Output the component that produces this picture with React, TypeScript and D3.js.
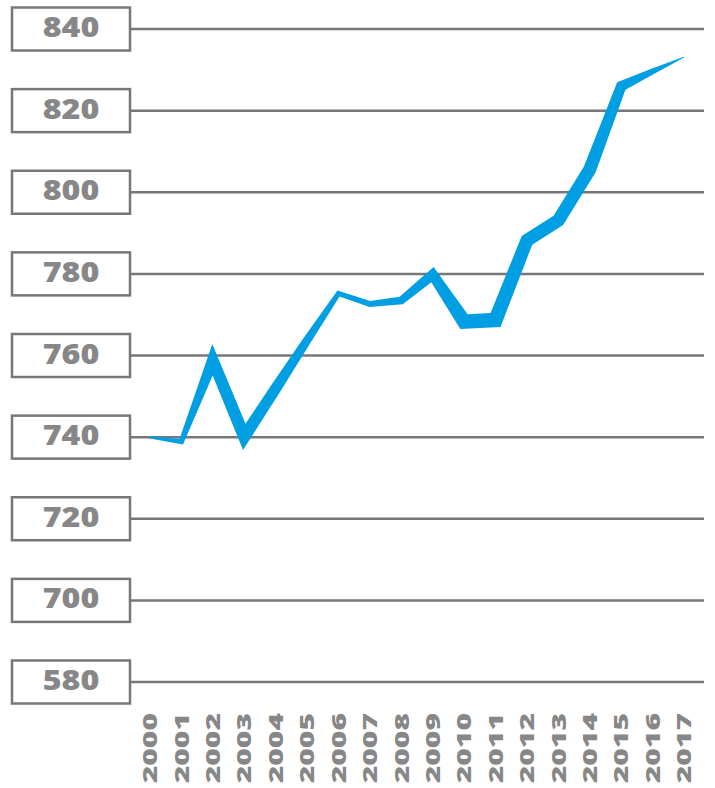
import React from 'react';
import * as d3 from 'd3';

const years = ['2000', '2001', '2002', '2003', '2004', '2005', '2006', '2007', '2008', '2009', '2010', '2011', '2012', '2013', '2014', '2015', '2016', '2017'];
const values = [739.9, 738.9, 758.8, 740.1, 751.9, 763.7, 775.2, 772.6, 773.5, 779.8, 768.3, 768.7, 788.2, 793.1, 805.6, 826.0, 829.6, 833.1];
const spread = [1.5, 4, 9, 9.5, 8.5, 6.5, 4, 4.5, 6, 8, 11, 11, 10, 10, 10, 8, 4.5, 0.5];
const tickLabels = ['840', '820', '800', '780', '760', '740', '720', '700', '580'];

const W = 715;
const H = 788;

type P = [number, number];

function intersect(a1: P, b1: P, a2: P, b2: P): P | null {
  const d1x = b1[0] - a1[0], d1y = b1[1] - a1[1];
  const d2x = b2[0] - a2[0], d2y = b2[1] - a2[1];
  const den = d1x * d2y - d1y * d2x;
  if (Math.abs(den) < 1e-9) return null;
  const t = ((a2[0] - a1[0]) * d2y - (a2[1] - a1[1]) * d2x) / den;
  return [a1[0] + t * d1x, a1[1] + t * d1y];
}

function bandPolygon(pts: P[], hw: number[]): P[] {
  const n = pts.length;
  const normals: P[] = [];
  for (let k = 0; k < n - 1; k++) {
    const dx = pts[k + 1][0] - pts[k][0];
    const dy = pts[k + 1][1] - pts[k][1];
    const len = Math.hypot(dx, dy) || 1;
    normals.push([-dy / len, dx / len]);
  }
  const sides: P[][] = [[], []];
  [1, -1].forEach((s, si) => {
    for (let i = 0; i < n; i++) {
      if (i === 0 || i === n - 1) {
        const nn = normals[i === 0 ? 0 : n - 2];
        sides[si].push([pts[i][0] + s * nn[0] * hw[i], pts[i][1] + s * nn[1] * hw[i]]);
      } else {
        const n1 = normals[i - 1];
        const n2 = normals[i];
        const a1: P = [pts[i - 1][0] + s * n1[0] * hw[i - 1], pts[i - 1][1] + s * n1[1] * hw[i - 1]];
        const b1: P = [pts[i][0] + s * n1[0] * hw[i], pts[i][1] + s * n1[1] * hw[i]];
        const a2: P = [pts[i][0] + s * n2[0] * hw[i], pts[i][1] + s * n2[1] * hw[i]];
        const b2: P = [pts[i + 1][0] + s * n2[0] * hw[i + 1], pts[i + 1][1] + s * n2[1] * hw[i + 1]];
        const q = intersect(a1, b1, a2, b2);
        if (q && Math.hypot(q[0] - pts[i][0], q[1] - pts[i][1]) < 8 * hw[i]) {
          sides[si].push(q);
        } else {
          sides[si].push([(b1[0] + a2[0]) / 2, (b1[1] + a2[1]) / 2]);
        }
      }
    }
  });
  return [...sides[0], ...sides[1].reverse()];
}

export default function App() {
  const yTick = d3.scalePoint<string>().domain(tickLabels).range([29, 682]);
  const y = d3.scaleLinear().domain([740, 840]).range([yTick('740') as number, yTick('840') as number]);
  const x = d3.scalePoint<string>().domain(years).range([150, 684]);
  const wScale = d3.scaleLinear().domain([0, 10]).range([0, 13]);

  const pts: P[] = years.map((yr, i) => [x(yr) as number, y(values[i])]);
  const hw = spread.map((s) => wScale(s) / 2);
  const poly = bandPolygon(pts, hw);
  const d = (d3.line()(poly) || '') + 'Z';

  const gray = '#777777';
  const textGray = '#878787';

  return (
    <svg width={W} height={H} style={{ position: 'absolute', left: 0, top: 0, display: 'block' }}>
      <rect x={0} y={0} width={W} height={H} fill="#ffffff" />
      {tickLabels.map((t) => {
        const yy = yTick(t) as number;
        return (
          <g key={t}>
            <line x1={130} x2={704} y1={yy} y2={yy} stroke={gray} strokeWidth={2.5} />
            <rect x={12} y={yy - 21.5} width={118} height={43} fill="#ffffff" stroke={gray} strokeWidth={2.5} />
            <text
              transform={`translate(71,${yy + 8}) scale(1.15,1)`}
              textAnchor="middle"
              fontFamily="'Open Sans', sans-serif"
              fontWeight={800}
              fontSize={28}
              fill={textGray}
            >
              {t}
            </text>
          </g>
        );
      })}
      <path d={d} fill="#009FE3" stroke="none" />
      {years.map((yr) => {
        const xx = x(yr) as number;
        return (
          <text
            key={yr}
            transform={`translate(${xx},${713}) rotate(-90) scale(1.5,1)`}
            textAnchor="end"
            dy="0.36em"
            fontFamily="'Open Sans', sans-serif"
            fontWeight={800}
            fontSize={20}
            fill={textGray}
          >
            {yr}
          </text>
        );
      })}
    </svg>
  );
}
